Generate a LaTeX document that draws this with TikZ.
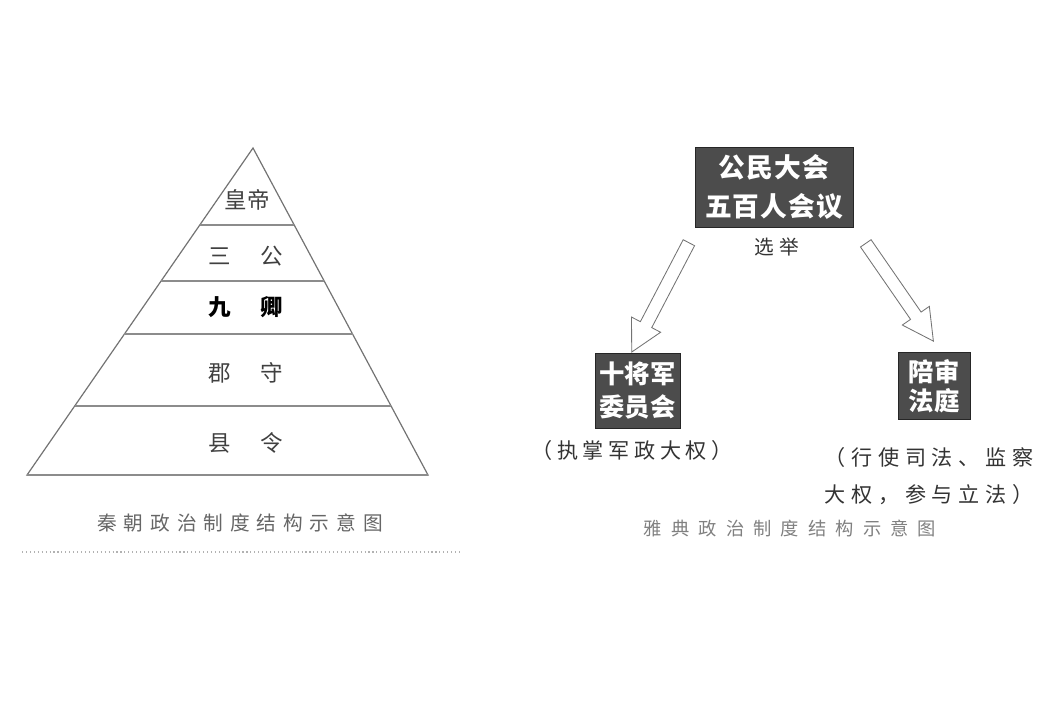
\documentclass[tikz,border=0pt]{standalone}
\usepackage{fontspec}
\newfontfamily\cjk{Noto Sans CJK SC}
\usepackage{tikz}
\usetikzlibrary{calc}
\usetikzlibrary{shapes.arrows}

\tikzset{
  level/.style={text=black!75, font=\cjk\fontsize{16}{18}\selectfont},
  caption/.style={text=black!60, font=\cjk\fontsize{14}{16}\selectfont\addfontfeatures{LetterSpace=35}},
  darkbox/.style={draw=black!85, fill=black!70, text=white, align=center, inner sep=0pt, font=\cjk\bfseries\fontsize{19}{28}\selectfont\addfontfeatures{LetterSpace=4}},
  note/.style={text=black!80, font=\cjk\fontsize{15}{26}\selectfont\addfontfeatures{LetterSpace=22}},
  hollowarrow/.style={single arrow, draw=black!55, fill=white, line width=.6pt, inner sep=0.15cm, single arrow head extend=0.25cm, single arrow tip angle=56}
}

\begin{document}
\begin{tikzpicture}[x=0.025cm, y=-0.025cm]
\path[use as bounding box] (0,0) rectangle (1050,700);
% Qin pyramid
\coordinate (apex) at (253,148);
\coordinate (bl) at (27,475);
\coordinate (br) at (428,475);
\draw[line width=.3mm, black!55] (apex) -- (bl) -- (br) -- cycle;
\foreach \t in {0.2355,0.4067,0.5688,0.789}
  \draw[line width=.5mm, black!45] ($(apex)!\t!(bl)$) -- ($(apex)!\t!(br)$);
\draw[line width=.5mm, black!45] (bl) -- (br);
\node[level] (emperor) at (247,200) {皇帝};
\node[level] (gongs) at (246,256) {三\hspace{1.3em}公};
\node[level, text=black, font=\cjk\bfseries\fontsize{16}{18}\selectfont] (qings) at (246,307) {九\hspace{1.3em}卿};
\node[level] (shou) at (246,373) {郡\hspace{1.3em}守};
\node[level] (ling) at (246,443) {县\hspace{1.3em}令};
\node[caption] (qincap) at (240,523) {秦朝政治制度结构示意图};
\draw[black!30, dotted, line width=.8pt] (22,552) -- (460,552);
% Athens
\node[darkbox, minimum width=3.95cm, minimum height=2cm] (assembly) at (774,187) {公民大会\\五百人会议};
\node[darkbox, minimum width=2.125cm, minimum height=1.875cm, font=\cjk\bfseries\fontsize{18}{23.5}\selectfont] (generals) at (637.5,390.5) {十将军\\委员会};
\node[darkbox, minimum width=1.8cm, minimum height=1.675cm, font=\cjk\bfseries\fontsize{18}{21}\selectfont] (court) at (934,386) {陪审\\法庭};
\node[note, font=\cjk\fontsize{14}{16}\selectfont\addfontfeatures{LetterSpace=25}] (elect) at (777,247) {选举};
\coordinate (lt) at ($(assembly.south west)+(-3,10)$);
\coordinate (lh) at ($(generals.north)+(-3,-6)$);
\coordinate (rt) at ($(assembly.south east)+(9,11)$);
\coordinate (rh) at ($(court.north)+(-4,-16)$);
\path let \p1=($(lh)-(lt)$), \n1={atan2(\y1,\x1)}, \n2={veclen(\x1,\y1)} in
  node[hollowarrow, rotate=\n1, minimum height=\n2] (arrowL) at ($(lt)!.5!(lh)$) {};
\path let \p1=($(rh)-(rt)$), \n1={atan2(\y1,\x1)}, \n2={veclen(\x1,\y1)} in
  node[hollowarrow, rotate=\n1, minimum height=\n2] (arrowR) at ($(rt)!.5!(rh)$) {};
\node[note] (generalsnote) at (632,450) {（执掌军政大权）};
\node[note, align=left, font=\cjk\fontsize{15}{26}\selectfont\addfontfeatures{LetterSpace=27}] (courtnote) at (929,476) {（行使司法、监察\\大权，参与立法）};
\node[caption, text=black!50, font=\cjk\fontsize{13}{15}\selectfont\addfontfeatures{LetterSpace=50}] (athcap) at (790,528) {雅典政治制度结构示意图};
\end{tikzpicture}
\end{document}
